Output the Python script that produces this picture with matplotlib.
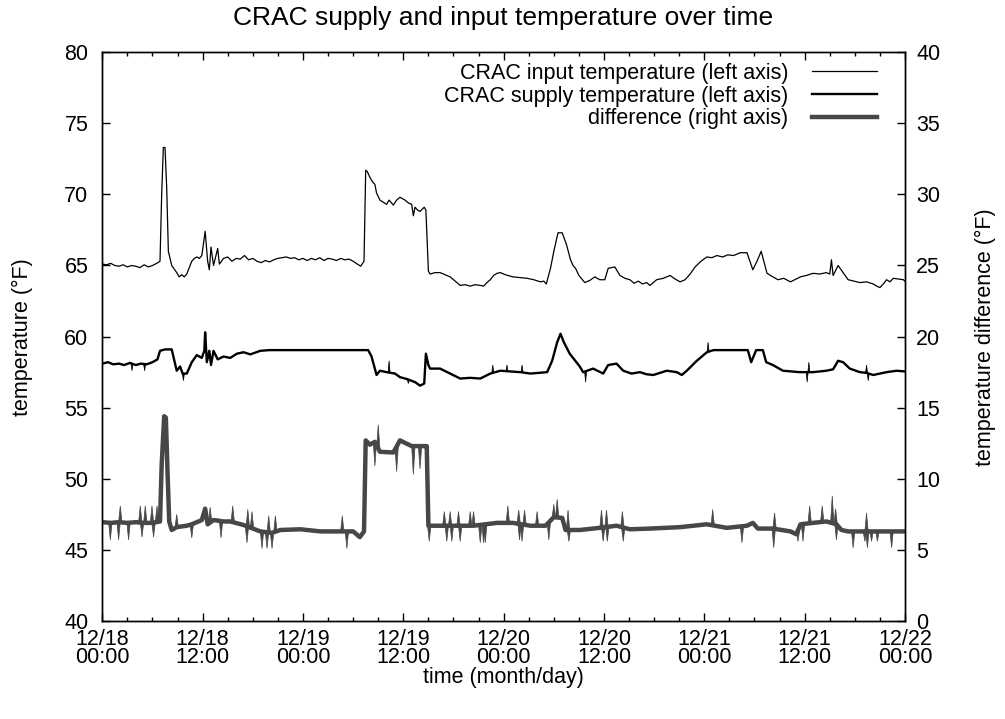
import numpy as np
import matplotlib
matplotlib.use('Agg')
import matplotlib.pyplot as plt

plt.rcParams['font.family'] = ['Liberation Sans', 'DejaVu Sans']

# time is in hours since 12/18 00:00
input_t = [0, 0.5, 1.0, 1.5, 2.0, 2.5, 3.0, 3.5, 4.0, 4.5, 5.0, 5.5, 6.0, 6.5,
           6.9, 7.1, 7.3, 7.5, 7.7, 7.9, 8.3, 8.9, 9.2, 9.5, 9.8, 10.1, 10.7,
           11.0, 11.3, 11.6, 11.9, 12.3, 12.6, 12.8, 13.0, 13.3, 13.8, 14.0,
           14.5, 15.0, 15.5, 16.0, 16.5, 17.0, 17.5, 18.0, 18.5, 19.0, 19.5,
           20.0, 20.5, 21.0, 21.5, 22.0, 22.5, 23.0, 23.5, 24.0, 24.5, 25.0,
           25.5, 26.0, 26.5, 27.0, 27.5, 28.0, 28.5, 29.0, 29.5, 30.0, 30.5,
           30.9, 31.3, 31.5, 31.7, 32.0, 32.3, 32.6, 32.8, 33.2, 33.6, 34.0,
           34.3, 34.8, 35.2, 35.6, 36.2, 36.6, 37.0, 37.2, 37.4, 37.7, 38.0,
           38.5, 38.7, 39.0, 39.2, 39.8, 40.4, 41.0, 41.6, 42.2, 42.8, 43.4,
           44.0, 44.6, 45.2, 45.6, 46.0, 46.4, 46.8, 47.2, 47.6, 48.2, 49.1,
           50.0, 50.8, 51.6, 52.4, 52.8, 53.1, 53.6, 54.0, 54.5, 55.0, 55.5,
           56.0, 56.3, 56.6, 57.0, 57.7, 58.3, 58.9, 59.5, 60.1, 60.5, 61.3,
           61.9, 62.5, 63.1, 63.6, 64.1, 64.6, 65.1, 65.5, 66.3, 67.1, 67.9,
           68.5, 69.1, 69.7, 70.3, 70.9, 71.6, 72.3, 72.9, 73.5, 74.2, 74.8,
           75.5, 76.3, 77.1, 77.8, 78.3, 78.8, 79.5, 80.2, 80.8, 81.5, 82.3,
           83.0, 83.5, 84.2, 85.0, 85.8, 86.6, 87.0, 87.2, 87.4, 88.0, 88.6,
           89.2, 89.9, 90.6, 91.4, 92.2, 92.6, 93.0, 93.4, 93.8, 94.2, 94.6,
           95.2, 95.8, 96]
input_v = [65.1, 65.05, 65.15, 65.0, 64.95, 65.05, 64.9, 65.0, 64.95, 64.85,
           65.05, 64.9, 65.0, 65.15, 65.3, 70.0, 73.3, 73.3, 70.5, 66.0, 65.0,
           64.5, 64.2, 64.35, 64.2, 64.4, 65.3, 65.5, 65.6, 65.5, 65.7, 67.4,
           65.3, 64.7, 66.3, 65.0, 66.2, 65.1, 65.5, 65.6, 65.3, 65.5, 65.45,
           65.7, 65.4, 65.5, 65.3, 65.2, 65.35, 65.25, 65.4, 65.5, 65.55, 65.6,
           65.5, 65.55, 65.4, 65.5, 65.35, 65.5, 65.4, 65.55, 65.35, 65.5,
           65.45, 65.35, 65.5, 65.4, 65.45, 65.3, 65.1, 64.95, 65.3, 71.7,
           71.6, 71.2, 70.9, 70.7, 70.1, 69.6, 69.45, 69.3, 69.6, 69.25, 69.6,
           69.8, 69.6, 69.4, 69.3, 68.5, 69.1, 68.9, 68.8, 69.1, 68.9, 64.6,
           64.4, 64.5, 64.5, 64.35, 64.2, 63.9, 63.6, 63.65, 63.55, 63.65,
           63.6, 63.55, 63.8, 64.0, 64.3, 64.45, 64.5, 64.35, 64.2, 64.15,
           64.1, 64.0, 63.85, 63.9, 63.7, 64.8, 66.0, 67.3, 67.3, 66.5, 65.4,
           65.0, 64.8, 64.3, 63.8, 63.95, 64.2, 64.0, 64.0, 64.8, 64.9, 64.3,
           64.1, 64.0, 63.75, 63.9, 63.7, 63.8, 63.6, 64.0, 64.1, 64.3, 64.05,
           63.85, 64.0, 64.4, 64.9, 65.3, 65.6, 65.55, 65.7, 65.6, 65.75, 65.7,
           65.9, 65.9, 64.7, 65.3, 66.0, 64.45, 64.2, 64.0, 64.1, 63.85, 64.05,
           64.2, 64.3, 64.45, 64.4, 64.5, 64.4, 65.4, 64.3, 65.0, 64.5, 64.0,
           63.9, 63.8, 63.85, 63.7, 63.55, 63.45, 63.7, 64.0, 63.85, 64.1,
           64.05, 64.0, 63.9]

supply_t = [0, 0.7, 1.3, 2.0, 2.6, 3.3, 4.0, 4.6, 5.3, 6.0, 6.6, 6.9, 7.5, 8.3,
            8.9, 9.3, 9.6, 10.1, 10.7, 11.3, 11.9, 12.2, 12.3, 12.5, 12.8,
            13.0, 13.3, 13.8, 14.5, 15.3, 16.1, 16.9, 17.7, 18.9, 20.0, 31.8,
            32.2, 32.8, 33.2, 34.0, 35.0, 35.6, 36.5, 37.4, 38.0, 38.5, 38.7,
            39.0, 39.2, 40.4, 41.6, 42.8, 44.0, 45.2, 46.4, 47.6, 48.8, 50.0,
            51.2, 52.2, 53.2, 53.8, 54.4, 54.8, 55.2, 55.9, 57.1, 57.5, 58.7,
            59.9, 60.5, 61.5, 62.3, 63.3, 64.3, 65.1, 65.9, 66.7, 67.5, 68.7,
            69.3, 69.9, 71.1, 72.3, 73.1, 77.2, 77.6, 78.2, 79.0, 79.4, 80.2,
            81.4, 82.4, 83.4, 85.0, 85.8, 86.6, 87.4, 88.0, 88.6, 89.4, 90.6,
            91.4, 92.2, 93.0, 93.8, 95.0, 96]
supply_v = [58.1, 58.2, 58.05, 58.1, 58.0, 58.15, 58.0, 58.1, 58.05, 58.2,
            58.4, 59.0, 59.1, 59.1, 57.6, 57.9, 57.4, 57.4, 58.2, 58.7, 58.5,
            59.0, 60.3, 58.2, 59.0, 58.0, 59.0, 58.4, 58.6, 58.5, 58.8, 58.9,
            58.75, 59.0, 59.05, 59.05, 58.6, 57.3, 57.6, 57.5, 57.4, 57.15,
            57.0, 56.8, 56.55, 56.7, 58.8, 58.0, 57.75, 57.75, 57.4, 57.05,
            57.1, 57.05, 57.4, 57.6, 57.55, 57.5, 57.4, 57.45, 57.5, 58.3,
            59.6, 60.2, 59.6, 58.8, 57.9, 57.5, 57.75, 57.4, 58.0, 58.1, 57.6,
            57.4, 57.5, 57.35, 57.3, 57.45, 57.6, 57.5, 57.3, 57.6, 58.3, 58.9,
            59.05, 59.05, 58.2, 59.05, 59.05, 58.2, 58.0, 57.6, 57.55, 57.5,
            57.5, 57.55, 57.6, 57.7, 58.3, 58.2, 57.75, 57.5, 57.45, 57.3,
            57.4, 57.5, 57.6, 57.55]

# difference, right axis units
diff_t = [0, 1, 2, 3, 4, 5, 6, 6.9, 7.1, 7.4, 7.6, 7.8, 8.0, 8.3, 8.9, 10.1,
          10.7, 11.9, 12.3, 12.6, 13.3, 14.5, 15.3, 16.9, 18.0, 18.9, 20.3,
          21.3, 23.7, 26.1, 28.0, 30.0, 30.8, 31.3, 31.5, 32.0, 32.6, 33.2,
          34.8, 35.6, 37.0, 38.5, 38.8, 39.0, 40.4, 42.8, 44.4, 47.2, 49.1,
          51.2, 53.0, 54.0, 55.0, 55.4, 57.1, 59.5, 61.5, 63.1, 65.5, 69.1,
          72.3, 74.7, 77.1, 77.8, 78.4, 80.2, 82.3, 83.0, 83.5, 85.0, 86.6,
          87.8, 88.4, 89.2, 92.2, 96]
diff_v = [6.95, 6.9, 6.95, 6.9, 6.95, 6.9, 6.9, 7.0, 11.0, 14.4, 14.3, 10.5,
          7.0, 6.4, 6.6, 6.7, 6.8, 7.1, 7.9, 6.8, 7.1, 7.0, 7.0, 6.75, 6.5,
          6.3, 6.2, 6.4, 6.45, 6.3, 6.3, 6.3, 5.9, 6.3, 12.7, 12.4, 12.6, 11.9,
          11.85, 12.7, 12.3, 12.3, 12.3, 6.7, 6.7, 6.7, 6.7, 6.9, 6.9, 6.7,
          6.7, 7.3, 7.25, 6.4, 6.4, 6.55, 6.7, 6.45, 6.5, 6.6, 6.8, 6.55, 6.7,
          6.9, 6.5, 6.5, 6.3, 6.1, 6.8, 6.9, 7.0, 6.8, 6.4, 6.3, 6.3, 6.3]

# short one-sample spikes (hour, peak value)
diff_spike_t = [0.96, 1.95, 2.15, 3.14, 4.54, 4.75, 5.14, 5.94, 6.13, 6.54,
                8.9, 10.7, 12.9, 13.8, 14.2, 15.6, 17.3, 17.4, 17.9, 19.1,
                19.7, 19.9, 20.3, 20.7, 28.7, 29.25, 32.6, 33.0, 35.2, 37.2,
                38.0, 39.1, 40.9, 41.2, 41.6, 41.8, 42.6, 42.8, 44.0, 44.4,
                45.2, 45.6, 45.8, 48.5, 49.8, 49.9, 50.2, 50.5, 52.0, 53.4,
                54.0, 54.4, 55.7, 55.8, 59.7, 59.9, 60.3, 60.4, 62.2, 62.3,
                73.0, 76.5, 80.3, 80.4, 83.2, 83.8, 84.6, 86.1, 87.3, 87.7,
                87.8, 89.8, 91.2, 91.4, 91.5, 92.0, 92.7, 94.4]
diff_spike_v = [5.7, 5.7, 8.1, 5.7, 8.1, 5.9, 8.1, 8.1, 5.9, 8.1,
                7.5, 5.85, 8.0, 7.2, 5.85, 8.1, 5.5, 7.85, 7.7, 5.1,
                5.1, 7.4, 5.1, 7.4, 7.4, 5.1, 10.9, 13.8, 10.5, 10.3,
                10.7, 5.6, 7.7, 5.6, 7.7, 5.6, 7.7, 5.6, 7.7, 7.7,
                5.5, 5.5, 5.5, 8.1, 7.8, 5.7, 5.6, 7.8, 7.7, 5.7,
                8.2, 8.55, 7.8, 5.6, 7.8, 5.6, 7.8, 5.6, 7.7, 5.6,
                7.85, 5.5, 5.15, 7.6, 5.6, 5.6, 8.1, 8.1, 8.8, 7.9,
                5.7, 5.15, 5.6, 7.6, 5.15, 5.6, 5.6, 5.15]

supply_spike_t = [3.55, 5.06, 9.7, 34.3, 36.6, 46.7, 48.4, 50.2, 57.8, 72.45,
                  84.3, 84.5, 91.4, 91.6]
supply_spike_v = [57.6, 57.6, 56.9, 58.3, 56.7, 58.0, 58.0, 58.0, 56.8, 59.6,
                  56.8, 58.2, 58.0, 56.9]

tick_hours = [0, 12, 24, 36, 48, 60, 72, 84, 96]
tick_labels = ['12/18\n00:00', '12/18\n12:00', '12/19\n00:00', '12/19\n12:00',
               '12/20\n00:00', '12/20\n12:00', '12/21\n00:00', '12/21\n12:00',
               '12/22\n00:00']

grey = '#474747'
fs = 15.5

fig = plt.figure(figsize=(10.05, 7.19), dpi=100)
ax = fig.add_axes([0.1018, 0.1363, 0.7987, 0.7911])
ax2 = ax.twinx()

l1, = ax.plot(input_t, input_v, color='black', lw=0.9)
l2, = ax.plot(supply_t, supply_v, color='black', lw=1.7)
l3, = ax2.plot(diff_t, diff_v, color=grey, lw=3.2)

# spikes drawn as narrow triangles on top of the traces
base = np.interp(diff_spike_t, diff_t, diff_v)
for t, b, p in zip(diff_spike_t, base, diff_spike_v):
    ax2.fill([t - 0.2, t, t + 0.2], [b, p, b], color=grey, lw=0.5)
base = np.interp(supply_spike_t, supply_t, supply_v)
for t, b, p in zip(supply_spike_t, base, supply_spike_v):
    ax.fill([t - 0.12, t, t + 0.12], [b, p, b], color='black', lw=0.5)

ax.set_xlim(0, 96)
ax.set_ylim(40, 80)
ax2.set_ylim(0, 40)
ax.set_xticks(tick_hours)
ax.set_xticklabels(tick_labels)
for lbl in ax.get_xticklabels():
    lbl.set_linespacing(0.8)
ax.set_xticks(np.arange(0, 97, 3), minor=True)
ax.set_yticks(np.arange(40, 81, 5))
ax2.set_yticks(np.arange(0, 41, 5))

ax.tick_params(axis='x', which='major', direction='in', top=True, length=5.8,
               width=1, pad=6, labelsize=fs)
ax.tick_params(axis='x', which='minor', direction='in', top=True, length=2.9,
               width=1)
ax.tick_params(axis='y', direction='in', right=False, length=5.8, width=1,
               pad=10, labelsize=fs)
ax2.tick_params(axis='y', direction='in', length=5.8, width=1, pad=8,
                labelsize=fs)
for a in (ax, ax2):
    for s in a.spines.values():
        s.set_linewidth(1)

fig.text(0.501, 1 - 18 / 719, 'CRAC supply and input temperature over time',
         ha='center', va='center', fontsize=19)
fig.text(0.501, 1 - 678 / 719, 'time (month/day)', ha='center', va='center',
         fontsize=fs)
fig.text(22 / 1005, 1 - 337 / 719, 'temperature (°F)', rotation=90,
         ha='center', va='center', fontsize=fs)
fig.text(985 / 1005, 1 - 337 / 719, 'temperature difference (°F)',
         rotation=90, ha='center', va='center', fontsize=fs)

ax2.legend([l1, l2, l3],
           ['CRAC input temperature (left axis)',
            'CRAC supply temperature (left axis)',
            'difference (right axis)'],
           loc='upper right', bbox_to_anchor=(0.965, 0.981), frameon=False,
           markerfirst=False, handlelength=3.0, handletextpad=1.12,
           labelspacing=0.08, borderpad=0, borderaxespad=0, fontsize=fs)

fig.savefig('out.png', dpi=100)
